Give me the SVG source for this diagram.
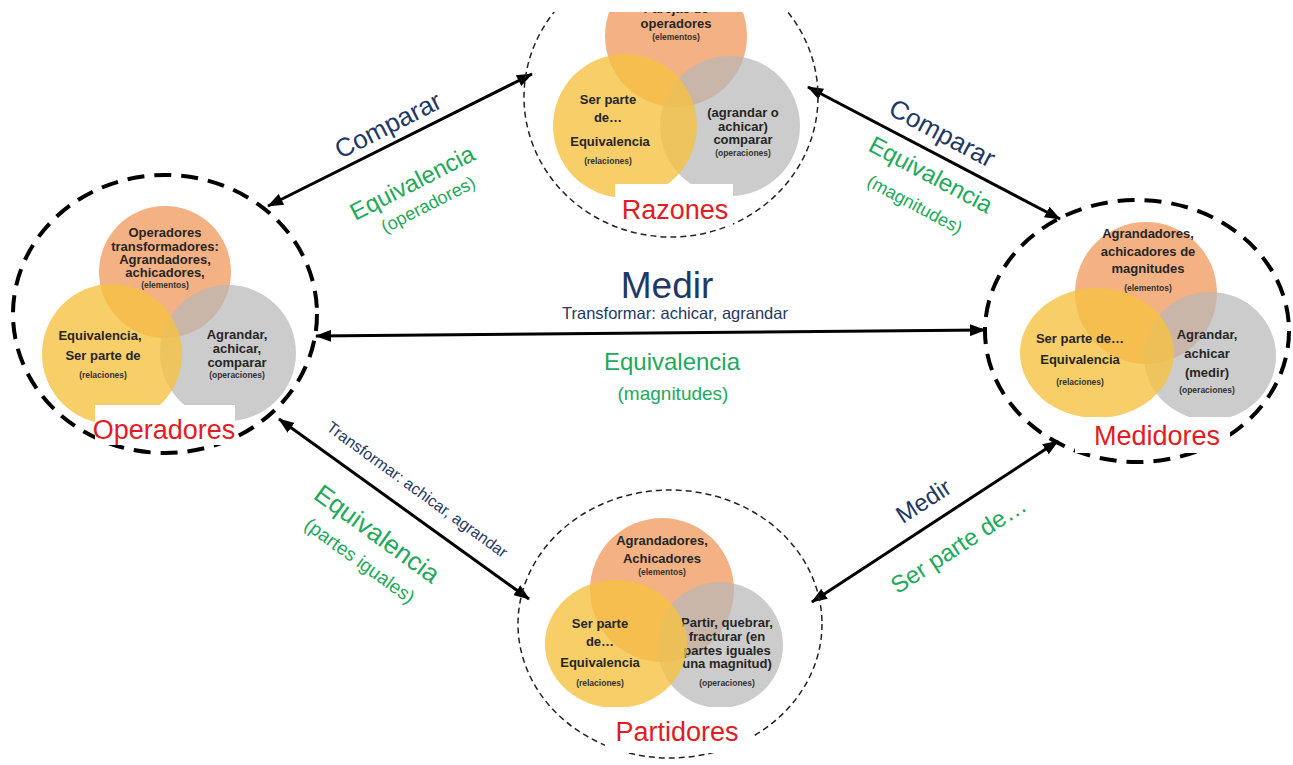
<svg xmlns="http://www.w3.org/2000/svg" width="1293" height="765" viewBox="0 0 1293 765">
<defs>
<marker id="ah" viewBox="0 0 16 12" refX="15" refY="6" markerWidth="16" markerHeight="12" markerUnits="userSpaceOnUse" orient="auto-start-reverse"><path d="M0,0 L16,6 L0,12 z" fill="#000"/></marker>
<style>
text{font-family:"Liberation Sans",Arial,sans-serif;text-anchor:middle}
.or{fill:#F4B183}
.gy{fill:#B8B8B8;fill-opacity:0.72}
.ye{fill:#F5C242;fill-opacity:0.8}
.thin{fill:none;stroke:#222;stroke-width:1.5;stroke-dasharray:6 4}
.thick{fill:none;stroke:#000;stroke-width:4;stroke-dasharray:17 10}
.v{font-weight:bold;fill:#262626;font-size:13px}
.s{font-weight:bold;fill:#333;font-size:8.5px}
.red{fill:#E31B23;font-size:27px}
.nv{fill:#1F3864}
.gr{fill:#1DAA5A}
.box{fill:#fff}
.con{stroke:#000;stroke-width:3;fill:none;marker-start:url(#ah);marker-end:url(#ah)}
</style>
</defs>
<rect width="1293" height="765" fill="#fff"/>

<g id="connectors">
<line class="con" x1="268" y1="206" x2="532" y2="74"/>
<line class="con" x1="808" y1="87" x2="1060" y2="219"/>
<line class="con" x1="316" y1="336" x2="985" y2="330"/>
<line class="con" x1="279" y1="419" x2="529" y2="599"/>
<line class="con" x1="812" y1="602" x2="1058" y2="441"/>
</g>

<g id="edge-labels">
<text class="nv" font-size="26" transform="translate(392,133) rotate(-27)">Comparar</text>
<text class="gr" font-size="24" transform="translate(416,190) rotate(-27)">Equivalencia</text>
<text class="gr" font-size="18" transform="translate(431,210) rotate(-27)">(operadores)</text>

<text class="nv" font-size="26" transform="translate(938,141) rotate(28)">Comparar</text>
<text class="gr" font-size="24" transform="translate(927,182) rotate(28)">Equivalencia</text>
<text class="gr" font-size="18" transform="translate(912,210) rotate(28)">(magnitudes)</text>

<text class="nv" font-size="37" x="667" y="298">Medir</text>
<text class="nv" font-size="16.5" x="675" y="319">Transformar: achicar, agrandar</text>
<text class="gr" font-size="24" x="672" y="370">Equivalencia</text>
<text class="gr" font-size="19" x="673" y="400">(magnitudes)</text>

<text class="nv" font-size="16" transform="translate(414,494) rotate(36)">Transformar: achicar, agrandar</text>
<text class="gr" font-size="26" transform="translate(372,541) rotate(36)">Equivalencia</text>
<text class="gr" font-size="19" transform="translate(356,566) rotate(36)">(partes iguales)</text>

<text class="nv" font-size="24" transform="translate(928,508) rotate(-33)">Medir</text>
<text class="gr" font-size="24" transform="translate(963,552) rotate(-33)">Ser parte de…</text>
</g>

<g id="razones">
<ellipse class="thin" cx="671" cy="97" rx="147" ry="140"/>
<circle class="or" cx="676" cy="36" r="71"/>
<circle class="gy" cx="730" cy="126" r="70"/>
<circle class="ye" cx="625" cy="126" r="72"/>
<text class="v" x="676" y="13">Parejas de</text>
<text class="v" x="676" y="28">operadores</text>
<text class="s" x="676" y="40">(elementos)</text>
<text class="v" x="608" y="104">Ser parte</text>
<text class="v" x="608" y="122">de…</text>
<text class="v" x="610" y="146">Equivalencia</text>
<text class="s" x="608" y="164">(relaciones)</text>
<text class="v" x="743" y="117" font-size="11.5">(agrandar o</text>
<text class="v" x="743" y="131" font-size="11.5">achicar)</text>
<text class="v" x="743" y="144" font-size="11.5">comparar</text>
<text class="s" x="743" y="156">(operaciones)</text>
<rect class="box" x="615" y="184" width="118" height="42"/>
<text class="red" x="675" y="219" font-size="25">Razones</text>
</g>

<g id="operadores">
<ellipse class="thick" cx="165" cy="314" rx="152" ry="139"/>
<circle class="or" cx="165" cy="272" r="66"/>
<circle class="gy" cx="228" cy="353" r="68"/>
<circle class="ye" cx="112" cy="354" r="70"/>
<text class="v" x="165" y="237" font-size="12.5">Operadores</text>
<text class="v" x="165" y="251" font-size="12.5">transformadores:</text>
<text class="v" x="165" y="264" font-size="12.5">Agrandadores,</text>
<text class="v" x="165" y="277" font-size="12.5">achicadores,</text>
<text class="s" x="165" y="288">(elementos)</text>
<text class="v" x="100" y="340" font-size="12">Equivalencia,</text>
<text class="v" x="103" y="360" font-size="12">Ser parte de</text>
<text class="s" x="103" y="378">(relaciones)</text>
<text class="v" x="237" y="339" font-size="12">Agrandar,</text>
<text class="v" x="237" y="353" font-size="12">achicar,</text>
<text class="v" x="237" y="367" font-size="12">comparar</text>
<text class="s" x="237" y="378">(operaciones)</text>
<rect class="box" x="95" y="405" width="140" height="40"/>
<text class="red" x="164" y="439">Operadores</text>
</g>

<g id="medidores">
<ellipse class="thick" cx="1137" cy="331" rx="152" ry="131"/>
<circle class="or" cx="1146" cy="293" r="71"/>
<ellipse class="gy" cx="1210" cy="356" rx="66" ry="64"/>
<ellipse class="ye" cx="1097" cy="353" rx="77" ry="65"/>
<text class="v" x="1148" y="238">Agrandadores,</text>
<text class="v" x="1148" y="256">achicadores de</text>
<text class="v" x="1148" y="273">magnitudes</text>
<text class="s" x="1148" y="291">(elementos)</text>
<text class="v" x="1080" y="343">Ser parte de…</text>
<text class="v" x="1080" y="364">Equivalencia</text>
<text class="s" x="1080" y="385">(relaciones)</text>
<text class="v" x="1207" y="339" font-size="17">Agrandar,</text>
<text class="v" x="1207" y="358" font-size="17">achicar</text>
<text class="v" x="1207" y="377" font-size="17">(medir)</text>
<text class="s" x="1207" y="393" font-size="9.5">(operaciones)</text>
<rect class="box" x="1075" y="417" width="155" height="36"/>
<text class="red" x="1157" y="445">Medidores</text>
</g>

<g id="partidores">
<ellipse class="thin" cx="670" cy="624" rx="152" ry="134"/>
<circle class="or" cx="662" cy="590" r="72"/>
<circle class="gy" cx="720" cy="645" r="63"/>
<text class="v" x="727" y="627" font-size="11">Partir, quebrar,</text>
<text class="v" x="727" y="641" font-size="11">fracturar (en</text>
<text class="v" x="727" y="655" font-size="11">partes iguales</text>
<text class="v" x="727" y="668" font-size="11">una magnitud)</text>
<text class="s" x="727" y="686">(operaciones)</text>
<ellipse class="ye" cx="616" cy="644" rx="71" ry="64"/>
<text class="v" x="662" y="545" font-size="12.5">Agrandadores,</text>
<text class="v" x="662" y="563" font-size="12.5">Achicadores</text>
<text class="s" x="662" y="575">(elementos)</text>
<text class="v" x="600" y="628">Ser parte</text>
<text class="v" x="600" y="646">de…</text>
<text class="v" x="600" y="667">Equivalencia</text>
<text class="s" x="600" y="686">(relaciones)</text>
<rect class="box" x="605" y="707" width="148" height="46"/>
<text class="red" x="677" y="741">Partidores</text>
</g>

<rect x="0" y="0" width="1293" height="12" fill="#fff"/>
</svg>
